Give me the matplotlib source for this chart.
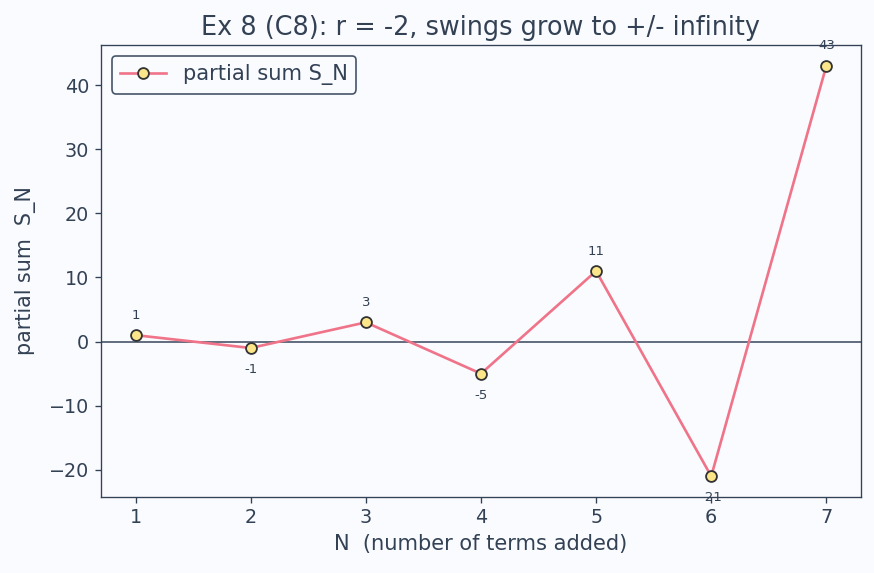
import matplotlib
matplotlib.use("Agg")
import matplotlib.pyplot as plt
import numpy as np

n_terms = [1, 2, 3, 4, 5, 6, 7]
partial_sums = [1, -1, 3, -5, 11, -21, 43]

ink = "#334155"
bg = "#fafbfe"

plt.rcParams["font.family"] = "DejaVu Sans"
plt.rcParams["text.color"] = ink
plt.rcParams["axes.labelcolor"] = ink
plt.rcParams["xtick.color"] = ink
plt.rcParams["ytick.color"] = ink

fig, ax = plt.subplots(figsize=(874 / 120, 573 / 120), dpi=120)
fig.patch.set_facecolor(bg)
ax.set_facecolor(bg)

ax.axhline(0, color="#475569", linewidth=1.0, zorder=1)
ax.plot(n_terms, partial_sums, color="#f07489", linewidth=1.6,
        marker="o", markersize=6.5, markerfacecolor="#fde68a",
        markeredgecolor="#333333", markeredgewidth=1.1,
        label="partial sum S_N", zorder=3)

for x, y in zip(n_terms, partial_sums):
    if y >= 0:
        ax.annotate(str(y), (x, y), xytext=(0, 8), textcoords="offset points",
                    ha="center", va="bottom", fontsize=8, color=ink)
    else:
        ax.annotate(str(y), (x, y), xytext=(0, -9), textcoords="offset points",
                    ha="center", va="top", fontsize=8, color=ink)

ax.set_title("Ex 8 (C8): r = -2, swings grow to +/- infinity", fontsize=15.3, color=ink)
ax.set_xlabel("N  (number of terms added)", fontsize=12.6)
ax.set_ylabel("partial sum  S_N", fontsize=12.4, labelpad=8)
ax.tick_params(labelsize=11.5, color=ink)
for s in ax.spines.values():
    s.set_color(ink)

leg = ax.legend(loc="upper left", fontsize=12.6, fancybox=True, framealpha=1.0,
                facecolor=bg, edgecolor="#475569", handlelength=2.2)
leg.get_frame().set_linewidth(1.0)

plt.subplots_adjust(left=0.1156, right=0.985, top=0.921, bottom=0.133)
plt.savefig("out.png", dpi=120, facecolor=bg)
